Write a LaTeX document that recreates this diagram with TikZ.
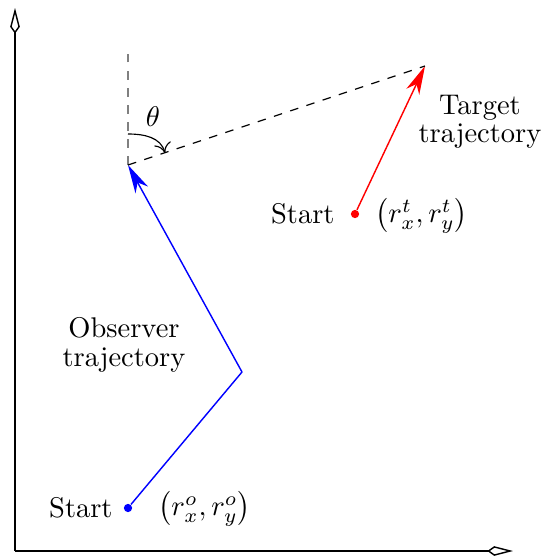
\documentclass[tikz,border=0pt]{standalone}
\usetikzlibrary{arrows.meta}
\begin{document}
\begin{tikzpicture}[x=0.351pt,y=-0.351pt,
  axis/.style={line width=0.5pt,-{Kite[open,length=9pt,width=3.4pt,inset=2.4pt]}},
  obs/.style={blue,line width=0.5pt},
  tgt/.style={red,line width=0.5pt},
  tip/.style={-{Stealth[length=10pt,width=5pt,inset=3pt]}},
  dot/.style={circle,inner sep=0pt,minimum size=2.9pt,fill=#1},
  lbl/.style={inner sep=1pt,align=center}]
\useasboundingbox (0,0) rectangle (544,556);
\coordinate (O) at (15,551);
\coordinate (yend) at (15,8);
\coordinate (xend) at (513,551);
\draw[axis] (O) -- (yend);
\draw[axis] (O) -- (xend);
% observer
\node[dot=blue] (os) at (128,508) {};
\coordinate (om) at (242,372);
\coordinate (oe) at (128,165);
\draw[obs] (os) -- (om);
\draw[obs,tip] (om) -- (oe);
% target
\node[dot=red] (ts) at (355,214) {};
\coordinate (te) at (425,66);
\draw[tgt,tip] (ts) -- (te);
% dashed lines
\coordinate (vtop) at (128,52);
\draw[gray,dashed,line width=0.5pt] (oe) -- (vtop);
\draw[dashed,line width=0.4pt] (oe) -- (te);
% angle
\coordinate (a1) at (128,134);
\coordinate (a2) at (165,153);
\draw[line width=0.4pt,-{To[length=3.5pt,width=6pt]}] (a1) to[out=0,in=105] (a2);
\node[lbl] (theta) at (153,117) {$\theta$};
% labels
\node[lbl] (ttraj) at (480,122) {Target\\[-2pt]trajectory};
\node[lbl,anchor=east] (tstart) at (338,214) {Start};
\node[lbl,anchor=west] (tcoord) at (372,216) {$\bigl(r_x^t,r_y^t\bigr)$};
\node[lbl] (otraj) at (124,345) {Observer\\[-2pt]trajectory};
\node[lbl,anchor=east] (ostart) at (116,508) {Start};
\node[lbl,anchor=west] (ocoord) at (155,509) {$\bigl(r_x^o,r_y^o\bigr)$};
\end{tikzpicture}
\end{document}
